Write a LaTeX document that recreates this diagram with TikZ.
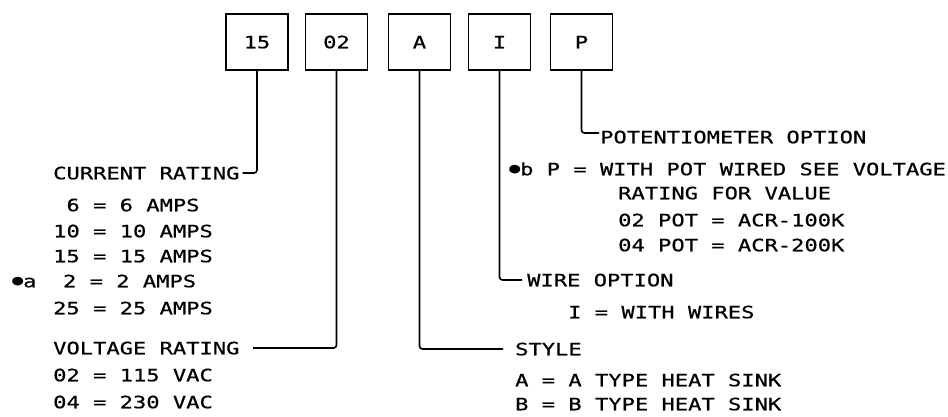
\documentclass[tikz,border=0pt]{standalone}
\usepackage{fontspec}
\newfontfamily\lett[FakeStretch=1.3,FakeBold=0.6]{DejaVu Sans Mono}
\newcommand\mkdot{\raisebox{2.5pt}{\fontsize{14}{14}\selectfont●}}
\begin{document}
\begin{tikzpicture}[x=1pt,y=-1pt,
  every node/.style={font=\lett\fontsize{17}{20}\selectfont, text height=12.5pt, text depth=0pt},
  codebox/.style={draw, line width=1.6pt, minimum width=62pt, minimum height=56pt, inner sep=0pt},
  lbl/.style={anchor=west, inner sep=3pt},
  conn/.style={line width=1.6pt, rounded corners=3pt}]
\useasboundingbox (0,0) rectangle (948,416);
% code boxes
\node[codebox] (b1) at (257,42) {15};
\node[codebox] (b2) at (336.5,42) {02};
\node[codebox] (b3) at (419.5,42) {A};
\node[codebox] (b4) at (499.5,42) {I};
\node[codebox] (b5) at (581.5,42) {P};
% left column
\node[lbl] (cur) at (50,173) {CURRENT RATING};
\node[lbl] (c1) at (50,205) {\ 6 = 6 AMPS};
\node[lbl] (c2) at (50,231) {10 = 10 AMPS};
\node[lbl] (c3) at (50,256) {15 = 15 AMPS};
\node[lbl] (c4) at (9,281) {\mkdot a \ 2 = 2 AMPS};
\node[lbl] (c5) at (50,308) {25 = 25 AMPS};
\node[lbl] (vol) at (50,348) {VOLTAGE RATING};
\node[lbl] (v1) at (50,375) {02 = 115 VAC};
\node[lbl] (v2) at (50,402) {04 = 230 VAC};
% right column
\node[lbl] (pot) at (597,137) {POTENTIOMETER OPTION};
\node[lbl] (p1) at (506,169) {\mkdot b P = WITH POT WIRED SEE VOLTAGE};
\node[lbl] (p2) at (615,193) {RATING FOR VALUE};
\node[lbl] (p3) at (615,220) {02 POT = ACR-100K};
\node[lbl] (p4) at (615,245) {04 POT = ACR-200K};
\node[lbl] (wir) at (524,280) {WIRE OPTION};
\node[lbl] (w1) at (565,312) {I = WITH WIRES};
\node[lbl] (sty) at (512,349) {STYLE};
\node[lbl] (s1) at (512,380) {A = A TYPE HEAT SINK};
\node[lbl] (s2) at (512,404) {B = B TYPE HEAT SINK};
% connectors
\coordinate (vend) at (253,348);
\draw[conn] (b1.south) |- (cur.east);
\draw[conn] (b2.south) |- (vend);
\draw[conn] (b3.south) |- ([xshift=-9pt]sty.west);
\draw[conn] (b4.south) |- ([xshift=-2pt]wir.west);
\draw[conn] (b5.south) |- ([xshift=2pt,yshift=4pt]pot.west);
\end{tikzpicture}
\end{document}
